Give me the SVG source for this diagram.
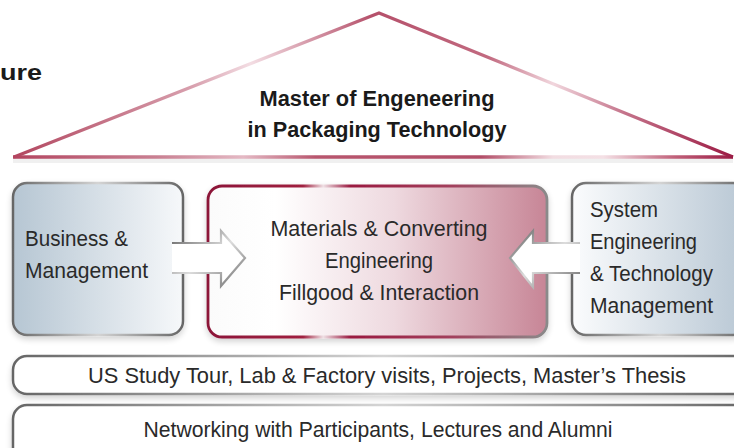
<svg xmlns="http://www.w3.org/2000/svg" width="734" height="448" viewBox="0 0 734 448">
<style>
.t{font-family:"Liberation Sans",Arial,sans-serif;fill:#2a2a2a;font-size:22px}
.b{font-family:"Liberation Sans",Arial,sans-serif;fill:#1a1a1a;font-size:22px;font-weight:bold}
.mid{text-anchor:middle}
.box{stroke:url(#metal);stroke-width:2.5}
.arr{fill:none;stroke:url(#metal2);stroke-width:2.2;stroke-linejoin:miter}
</style>
<defs>
<linearGradient id="roofG" gradientUnits="userSpaceOnUse" x1="13" y1="0" x2="733" y2="0">
<stop offset="0" stop-color="#b2465f"/>
<stop offset="0.25" stop-color="#d8a0ae"/>
<stop offset="0.33" stop-color="#f3dde3"/>
<stop offset="0.5" stop-color="#b5506a"/>
<stop offset="0.66" stop-color="#c26a80"/>
<stop offset="0.75" stop-color="#f1d6dd"/>
<stop offset="0.85" stop-color="#c4738a"/>
<stop offset="1" stop-color="#9c1a43"/>
</linearGradient>
<linearGradient id="baseG" gradientUnits="userSpaceOnUse" x1="13" y1="0" x2="733" y2="0">
<stop offset="0" stop-color="#b3445f"/>
<stop offset="0.2" stop-color="#c98092"/>
<stop offset="0.32" stop-color="#e4b9c4"/>
<stop offset="0.42" stop-color="#b8566e"/>
<stop offset="0.65" stop-color="#b24d67"/>
<stop offset="0.75" stop-color="#f2dde2"/>
<stop offset="0.82" stop-color="#f4e0e5"/>
<stop offset="0.92" stop-color="#c06079"/>
<stop offset="1" stop-color="#9b1b44"/>
</linearGradient>
<linearGradient id="metal" x1="0" y1="0" x2="1" y2="0">
<stop offset="0" stop-color="#666666"/>
<stop offset="0.5" stop-color="#d4d4d4"/>
<stop offset="1" stop-color="#666666"/>
</linearGradient>
<linearGradient id="metal2" x1="0" y1="0" x2="1" y2="1">
<stop offset="0" stop-color="#5e5e5e"/>
<stop offset="0.5" stop-color="#dcdcdc"/>
<stop offset="1" stop-color="#6a6a6a"/>
</linearGradient>
<linearGradient id="redStroke" x1="0" y1="0" x2="1" y2="0">
<stop offset="0" stop-color="#8c1639"/>
<stop offset="0.28" stop-color="#a0203f"/>
<stop offset="0.34" stop-color="#efe0e4"/>
<stop offset="0.42" stop-color="#9a1a40"/>
<stop offset="0.72" stop-color="#a2405c"/>
<stop offset="1" stop-color="#8a8a8a"/>
</linearGradient>
<linearGradient id="leftFill" x1="0" y1="0" x2="1" y2="0">
<stop offset="0" stop-color="#b6c6d3"/>
<stop offset="1" stop-color="#f6f8fa"/>
</linearGradient>
<linearGradient id="rightFill" x1="0" y1="0" x2="1" y2="0">
<stop offset="0" stop-color="#fbfcfd"/>
<stop offset="1" stop-color="#b8c7d4"/>
</linearGradient>
<linearGradient id="centerFill" x1="0" y1="0" x2="1" y2="0">
<stop offset="0" stop-color="#fbfbfb"/>
<stop offset="0.2" stop-color="#ffffff"/>
<stop offset="0.55" stop-color="#eed9df"/>
<stop offset="1" stop-color="#c78596"/>
</linearGradient>
<filter id="sh" x="-10%" y="-10%" width="120%" height="130%">
<feGaussianBlur in="SourceAlpha" stdDeviation="3"/>
<feOffset dy="3"/>
<feComponentTransfer><feFuncA type="linear" slope="0.18"/></feComponentTransfer>
<feMerge><feMergeNode/><feMergeNode in="SourceGraphic"/></feMerge>
</filter>
</defs>

<rect width="734" height="448" fill="#ffffff"/>

<text class="b" x="42" y="80" text-anchor="end" font-size="26" textLength="42" lengthAdjust="spacingAndGlyphs">ure</text>

<g id="roof">
<line x1="13" y1="160" x2="733" y2="160" stroke="#000" stroke-opacity="0.06" stroke-width="6"/>
<path d="M14,157 L379,13 L733,157" fill="none" stroke="url(#roofG)" stroke-width="3.2" stroke-linejoin="miter"/>
<line x1="13" y1="157" x2="733" y2="157" stroke="url(#baseG)" stroke-width="3.5"/>
<text class="b mid" x="377" y="106" font-size="23" textLength="235" lengthAdjust="spacingAndGlyphs">Master of Engeneering</text>
<text class="b mid" x="377" y="137" font-size="23" textLength="259" lengthAdjust="spacingAndGlyphs">in Packaging Technology</text>
</g>

<g id="business">
<rect class="box" x="13" y="183" width="170" height="152" rx="14" fill="url(#leftFill)" filter="url(#sh)"/>
<text class="t" x="25" y="246" textLength="103" lengthAdjust="spacingAndGlyphs">Business &amp;</text>
<text class="t" x="25" y="278" textLength="123" lengthAdjust="spacingAndGlyphs">Management</text>
</g>

<g id="materials">
<rect x="208" y="186" width="339" height="151" rx="14" fill="url(#centerFill)" stroke="url(#redStroke)" stroke-width="2.8" filter="url(#sh)"/>
<text class="t mid" x="379" y="236" textLength="217" lengthAdjust="spacingAndGlyphs">Materials &amp; Converting</text>
<text class="t mid" x="379" y="268" textLength="108" lengthAdjust="spacingAndGlyphs">Engineering</text>
<text class="t mid" x="379" y="300" textLength="200" lengthAdjust="spacingAndGlyphs">Fillgood &amp; Interaction</text>
</g>

<g id="system">
<rect class="box" x="572" y="183" width="175" height="152" rx="14" fill="url(#rightFill)" filter="url(#sh)"/>
<text class="t" x="590" y="217" textLength="68" lengthAdjust="spacingAndGlyphs">System</text>
<text class="t" x="590" y="249" textLength="107" lengthAdjust="spacingAndGlyphs">Engineering</text>
<text class="t" x="590" y="281" textLength="123" lengthAdjust="spacingAndGlyphs">&amp; Technology</text>
<text class="t" x="590" y="313" textLength="123" lengthAdjust="spacingAndGlyphs">Management</text>
</g>

<g id="connectors">
<polygon points="172,243 221,243 221,231 245,258 221,286 221,273 172,273" fill="#ffffff"/>
<polyline class="arr" points="172,243 221,243 221,231 245,258 221,286 221,273 172,273"/>
<polygon points="580,243 533,243 533,231 510,258 533,287 533,273 580,273" fill="#ffffff"/>
<polyline class="arr" points="580,243 533,243 533,231 510,258 533,287 533,273 580,273"/>
</g>

<g id="activities">
<rect class="box" x="13" y="356" width="740" height="38" rx="14" fill="#ffffff" filter="url(#sh)"/>
<text class="t mid" x="387" y="383" textLength="598" lengthAdjust="spacingAndGlyphs">US Study Tour, Lab &amp; Factory visits, Projects, Master’s Thesis</text>
</g>

<g id="networking">
<rect class="box" x="13" y="405" width="740" height="60" rx="14" fill="#ffffff" filter="url(#sh)"/>
<text class="t mid" x="378" y="437" textLength="469" lengthAdjust="spacingAndGlyphs">Networking with Participants, Lectures and Alumni</text>
</g>
</svg>
